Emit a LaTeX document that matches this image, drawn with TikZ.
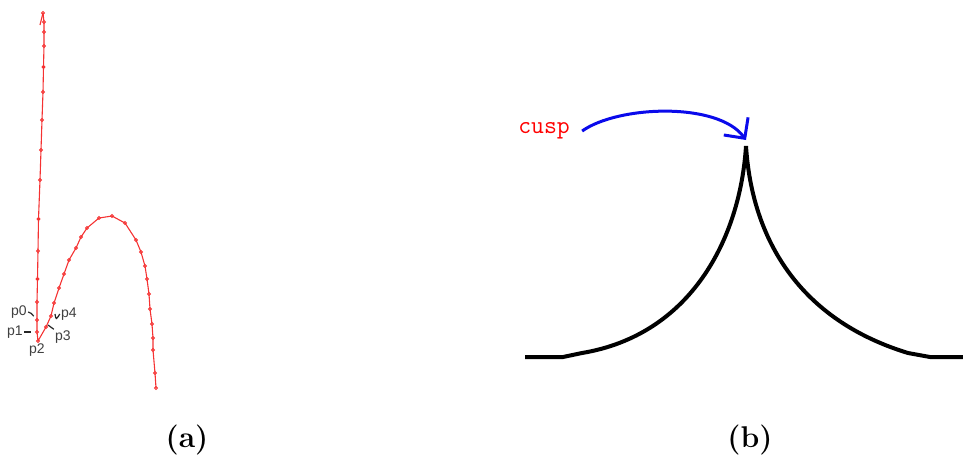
\documentclass[tikz,border=0pt]{standalone}
\usepackage{fontspec}
\usepackage{tikz}
\usetikzlibrary{arrows.meta}
\newfontfamily\lblfont{Liberation Sans}
\definecolor{trkclr}{RGB}{245,50,50}
\definecolor{arrclr}{RGB}{10,10,235}
\tikzset{
    trk/.style={draw=trkclr,line width=0.55pt,line join=round},
    trkpt/.style={draw=trkclr,line width=0.45pt},
    ptlbl/.style={font=\lblfont\fontsize{7}{8}\selectfont,text=black!75,inner sep=0.5pt},
    leader/.style={draw=black!85,line width=0.6pt},
    cuspln/.style={draw=black,line width=2pt},
    cusparr/.style={draw=arrclr,line width=1.5pt,-{Straight Barb[length=7.5pt,width=15pt,line width=1.5pt]}},
    subcap/.style={font=\fontsize{15}{18}\selectfont\bfseries},
}

\begin{document}
\begin{tikzpicture}[x=0.5pt,y=-0.5pt]
\useasboundingbox (0,0) rectangle (963,457);
% (a) tracked points
\coordinate (p0) at (37,320);
\coordinate (p1) at (37,332);
\coordinate (p2) at (38,341);
\coordinate (p3) at (46,327);
\coordinate (p4) at (51,316);
\draw[trk] plot coordinates {(43,13) (44,22) (44,32) (44,46) (43.5,67) (43,92) (42,120) (41,150) (40,180) (38.5,219) (38,251) (37.5,279) (37,302) (p0) (p1) (p2) (p3) (p4) (54,303) (59,288) (64,274) (69,260) (76,248) (81,237) (87,228) (99,218) (112,216) (125,223) (136,240) (141,252) (145,266) (147,279) (149,294) (150,309) (152,324) (153,338) (153,350) (155,373) (156,388)};
\draw[trk] (43,13) -- (40,25);
\foreach \pt in {(43,13),(44,22),(44,32),(44,46),(43.5,67),(43,92),(42,120),(41,150),(40,180),(38.5,219),(38,251),(37.5,279),(37,302),(37,320),(37,332),(38,341),(46,327),(51,316),(54,303),(59,288),(64,274),(69,260),(76,248),(81,237),(87,228),(99,218),(112,216),(125,223),(136,240),(141,252),(145,266),(147,279),(149,294),(150,309),(152,324),(153,338),(153,350),(155,373),(156,388)}
    \draw[trkpt] \pt circle (1.5);

\node[ptlbl] (l0) at (19,312) {p0};
\node[ptlbl] (l1) at (15,332) {p1};
\node[ptlbl] (l2) at (37,350) {p2};
\node[ptlbl] (l3) at (63,337) {p3};
\node[ptlbl] (l4) at (69,314) {p4};
\draw[leader] (l0.east) .. controls (31,313) .. (p0) [shorten >=2.5pt];
\draw[leader] (l1.east) -- ([xshift=-3]p1);
\draw[leader] (l3.north west) -- ([xshift=1,yshift=1]p3);
\draw[leader] (l4.west) .. controls (56,320) .. ([xshift=2,yshift=1]p4);

% (b) cusp
\coordinate (apex) at (746,146);
\draw[cuspln] (525,357) -- (563,357) -- (582,353) .. controls (690,335) and (740,240) .. (apex);
\draw[cuspln] (apex) .. controls (752,240) and (800,320) .. (908,353) -- (930,357) -- (963,357);
\node[font=\ttfamily\fontsize{12.5}{14}\selectfont,text=red,inner sep=1pt] (cusp) at (544,131) {cusp};
\draw[cusparr] ([xshift=5]cusp.east) .. controls (618,105.5) and (718,101.5) .. ([yshift=3]apex);

\node[subcap] (capa) at (187,440) {(a)};
\node[subcap] (capb) at (750,440) {(b)};
\end{tikzpicture}
\end{document}
